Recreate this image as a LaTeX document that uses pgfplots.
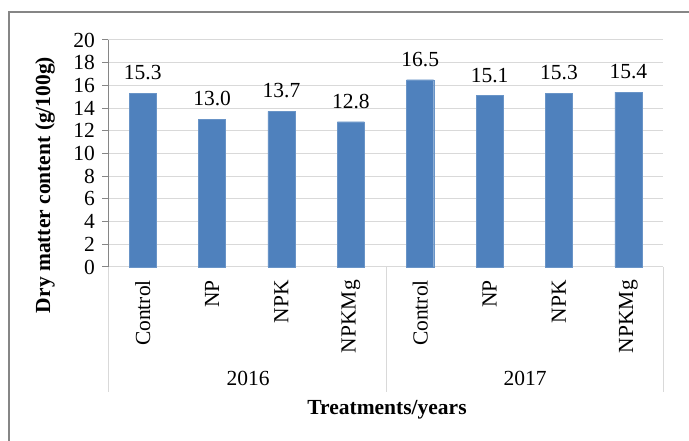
\documentclass[border=0pt]{standalone}
\usepackage{fontspec}
\setmainfont{Liberation Serif}
\usepackage{pgfplots}
\pgfplotsset{compat=1.18}
\definecolor{barblue}{HTML}{4F81BD}
\definecolor{gridgray}{HTML}{D9D9D9}
\definecolor{axgray}{HTML}{868686}
\newcommand{\fs}{\fontsize{21.5bp}{25bp}\selectfont}
\begin{document}
\fs
\begin{tikzpicture}[x=1bp,y=1bp]
\useasboundingbox (0,0) rectangle (689,441);
\draw[axgray, line width=1.2bp] (9,0) -- (9,429) -- (689,429);
\begin{axis}[
  at={(108bp,174bp)}, anchor=south west,
  scale only axis, width=555bp, height=227bp,
  xmin=-0.5, xmax=7.5, ymin=0, ymax=20,
  ytick={0,2,...,20},
  xtick={0,...,7},
  xticklabels={Control,NP,NPK,NPKMg,Control,NP,NPK,NPKMg},
  axis lines*=left,
  x axis line style={draw=gridgray, line width=1bp},
  y axis line style={draw=axgray, line width=1bp},
  ymajorgrids, grid style={draw=gridgray, line width=1bp},
  xtick style={draw=none},
  ytick style={draw=axgray, line width=1bp},
  tick align=outside, major tick length=6bp,
  ticklabel style={font=\fs},
  /pgf/number format/assume math mode=true,
  xticklabel style={rotate=90, anchor=east, inner sep=0pt},
  xticklabel shift=7bp,
  yticklabel style={inner sep=0pt},
  yticklabel shift=7bp,
  ybar, bar width=0.39,
  nodes near coords={\pgfmathprintnumber[fixed,zerofill,precision=1,assume math mode=true]{\pgfplotspointmeta}},
  nodes near coords style={anchor=south, inner sep=0pt, yshift=13bp, font=\fs},
  clip=false,
]
\addplot[fill=barblue, draw=barblue!85!white] coordinates {
(0,15.3) (1,13.0) (2,13.7) (3,12.8) (4,16.5) (5,15.1) (6,15.3) (7,15.4)};
\end{axis}
\draw[gridgray, line width=1bp] (108,174) -- (108,49);
\draw[gridgray, line width=1bp] (386.5,174) -- (386.5,49);
\draw[gridgray, line width=1bp] (663,174) -- (663,49);
\node at (248,63) {2016};
\node at (525,63) {2017};
\node[font=\bfseries\fs] at (387,31) {Treatments/years};
\node[rotate=90, font=\bfseries\fs] at (45,256) {Dry matter content (g/100g)};
\end{tikzpicture}
\end{document}
